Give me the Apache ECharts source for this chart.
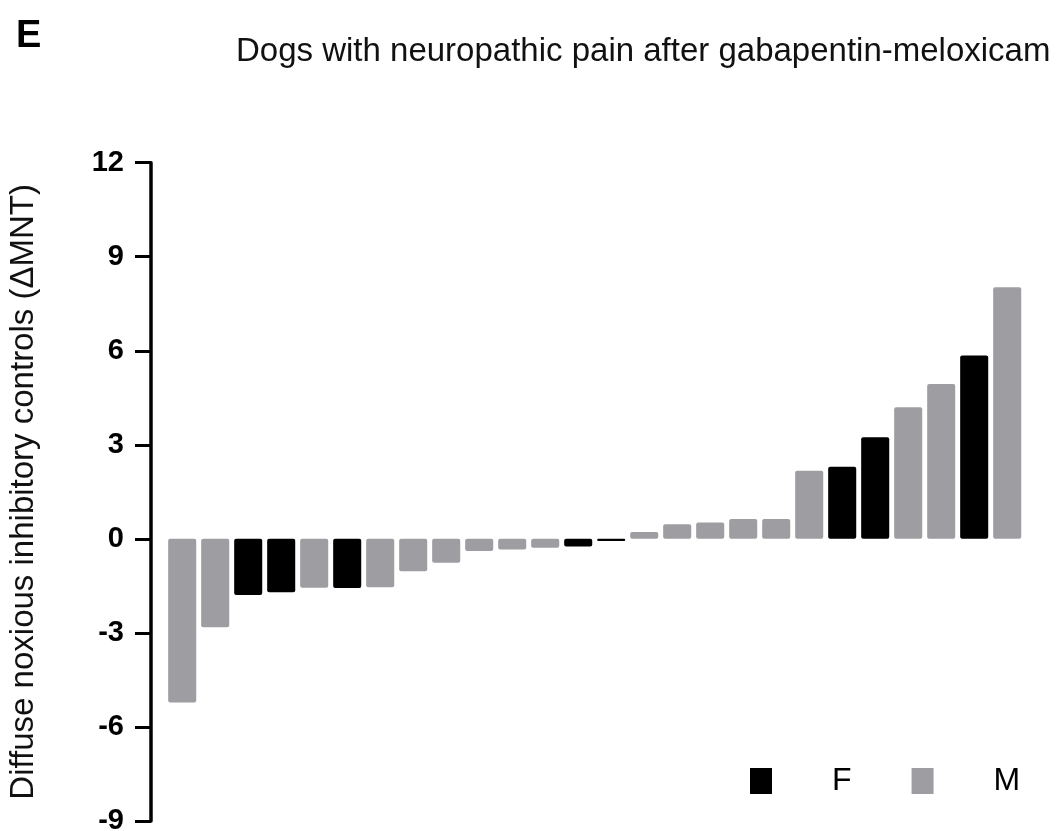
<!DOCTYPE html>
<html>
<head>
<meta charset="utf-8">
<script src="https://cdn.jsdelivr.net/npm/echarts@6/dist/echarts.min.js"></script>
<style>
  html, body { margin: 0; padding: 0; background: #fff; }
  #chart { width: 1059px; height: 831px; }
</style>
</head>
<body>
<div id="chart"></div>
<script>
  // one bar per dog, sorted by change
  var dogs = ['1', '2', '3', '4', '5', '6', '7', '8', '9', '10', '11', '12', '13',
    '14', '15', '16', '17', '18', '19', '20', '21', '22', '23', '24', '25', '26']
  var delta = [-5.22, -2.82, -1.79, -1.70, -1.56, -1.57, -1.54, -1.03, -0.76, -0.39, -0.34, -0.28, -0.24,
    -0.07, 0.22, 0.47, 0.52, 0.63, 0.63, 2.17, 2.30, 3.24, 4.20, 4.94, 5.85, 8.03]
  var sex = ['M', 'M', 'F', 'F', 'M', 'F', 'M', 'M', 'M', 'M', 'M', 'M', 'F',
    'F', 'M', 'M', 'M', 'M', 'M', 'M', 'F', 'F', 'M', 'M', 'F', 'M']
  var yTicks = [-9, -6, -3, 0, 3, 6, 9, 12]

  var colors = { F: '#000000', M: '#9e9ea2' }
  var font = '"Liberation Sans", Arial, Helvetica, sans-serif'

  function seriesFor (s) {
    return {
      name: s,
      type: 'bar',
      data: delta.map(function (v, i) { return sex[i] === s ? v : '-' }),
      barGap: '-100%',
      barCategoryGap: '15%',
      itemStyle: { color: colors[s], borderRadius: 2 },
      animation: false
    }
  }

  var chart = echarts.init(document.getElementById('chart'))
  chart.setOption({
    backgroundColor: '#fff',
    title: [
      {
        text: 'E',
        left: 16,
        top: 18,
        padding: 0,
        textStyle: { fontFamily: font, fontSize: 38, fontWeight: 'bold', color: '#000' }
      },
      {
        text: 'Dogs with neuropathic pain after gabapentin-meloxicam',
        left: 236,
        top: 35,
        padding: 0,
        textStyle: { fontFamily: font, fontSize: 33, fontWeight: 'normal', color: '#111' }
      }
    ],
    legend: {
      data: ['F', 'M'],
      left: 750,
      top: 765,
      padding: 0,
      itemWidth: 22,
      itemHeight: 26,
      itemGap: 60,
      icon: 'rect',
      textStyle: { fontFamily: font, fontSize: 32, color: '#000', padding: [0, 0, 0, 55] }
    },
    grid: { left: 165.7, right: 35.3, top: 162.7, bottom: 10, containLabel: false, outerBoundsMode: 'none' },
    xAxis: {
      type: 'category',
      data: dogs,
      axisLine: { show: false },
      axisTick: { show: false },
      axisLabel: { show: false },
      splitLine: { show: false }
    },
    yAxis: {
      type: 'value',
      min: yTicks[0],
      max: yTicks[yTicks.length - 1],
      interval: 3,
      offset: 14.7,
      name: 'Diffuse noxious inhibitory controls (ΔMNT)',
      nameLocation: 'middle',
      nameGap: 111,
      nameTextStyle: { fontFamily: font, fontSize: 33, color: '#111' },
      axisLine: { show: true, lineStyle: { color: '#000', width: 3.5 } },
      axisTick: { show: true, length: 16, lineStyle: { color: '#000', width: 3 } },
      axisLabel: {
        margin: 27,
        fontFamily: font,
        fontSize: 29,
        fontWeight: 'bold',
        color: '#000',
        showMinLabel: true,
        showMaxLabel: true
      },
      splitLine: { show: false }
    },
    series: [seriesFor('F'), seriesFor('M')]
  })
</script>
</body>
</html>
